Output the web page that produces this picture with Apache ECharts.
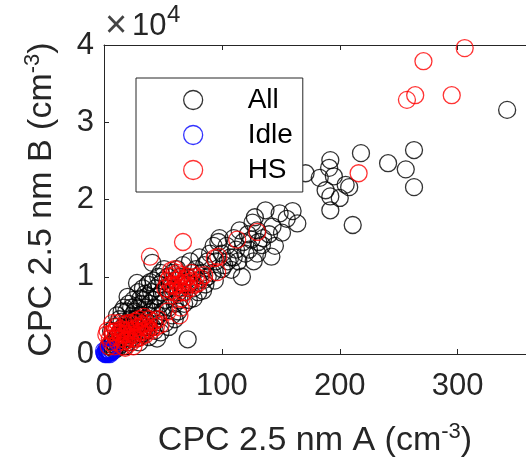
<!DOCTYPE html>
<html>
<head>
<meta charset="utf-8">
<script src="https://cdn.jsdelivr.net/npm/echarts@6/dist/echarts.min.js"></script>
<style>
  html, body { margin: 0; padding: 0; background: #fff; }
  #chart { width: 526px; height: 466px; }
</style>
</head>
<body>
<div id="chart"></div>
<script>
// x: CPC 2.5 nm A (cm^-3), y: CPC 2.5 nm B in units of 1e4 cm^-3
const xTicks = [0, 100, 200, 300]
const yTicks = [0, 1, 2, 3, 4]

const allPoints = [
  [3, 0.05], [4, 0.1], [5, 0.03], [6, 0.12], [7, 0.08], [8, 0.15], [9, 0.05], [10, 0.1], [10, 0.2],
  [11, 0.14], [12, 0.08], [12, 0.25], [13, 0.18], [14, 0.12], [14, 0.3], [15, 0.22], [16, 0.15],
  [16, 0.35], [17, 0.28], [18, 0.1], [18, 0.2], [19, 0.4], [20, 0.3], [20, 0.15], [20, 0.74],
  [21, 0.25], [22, 0.35], [22, 0.45], [23, 0.2], [24, 0.3], [24, 0.5], [25, 0.4], [26, 0.25],
  [26, 0.55], [27, 0.35], [28, 0.45], [28, 0.2], [28, 0.92], [29, 0.6], [30, 0.3], [30, 0.5],
  [31, 0.4], [32, 0.65], [32, 0.25], [33, 0.27], [33, 0.5], [34, 0.35], [34, 0.7], [35, 0.45],
  [36, 0.6], [36, 0.3], [37, 0.75], [38, 0.5], [38, 0.4], [39, 0.65], [39, 0.93], [40, 0.55],
  [40, 0.8], [41, 0.35], [41, 1.18], [42, 0.7], [43, 0.6], [44, 0.85], [44, 0.45], [45, 0.75],
  [45, 0.2], [46, 0.5], [47, 0.9], [48, 0.65], [49, 0.8], [50, 0.55], [50, 0.95], [52, 0.7],
  [53, 0.85], [54, 1.0], [55, 0.6], [56, 0.9], [57, 0.75], [58, 1.05], [59, 0.85], [60, 0.65],
  [61, 0.95], [62, 1.1], [63, 0.8], [64, 0.7], [65, 1.0], [66, 0.9], [67, 1.15], [68, 0.8],
  [70, 1.0], [71, 0.19], [72, 0.9], [73, 1.2], [75, 1.05], [76, 0.85], [78, 1.1], [80, 0.95],
  [81, 1.25], [83, 1.05], [85, 0.96], [85, 1.15], [86, 0.9], [88, 1.2], [90, 1.3], [92, 1.05],
  [93, 1.4], [95, 1.2], [97, 1.45], [98, 1.5], [100, 1.3], [102, 1.15], [104, 1.4], [107, 1.25],
  [108, 1.09], [110, 1.5], [112, 1.35], [115, 1.6], [117, 1.0], [118, 1.45], [120, 1.3],
  [122, 1.55], [125, 1.48], [126, 1.7], [128, 1.77], [130, 1.3], [130, 1.6], [131, 1.45],
  [134, 1.41], [137, 1.86], [140, 1.55], [142, 1.26], [143, 1.65], [149, 1.82], [151, 1.57],
  [155, 1.75], [164, 1.69], [171, 2.34], [183, 2.28], [188, 2.12], [191, 2.41], [192, 2.51],
  [192, 1.86], [192, 2.04], [195, 2.3], [200, 2.02], [205, 2.19], [208, 2.16], [211, 1.67],
  [218, 2.6], [241, 2.47], [256, 2.39], [263, 2.64], [263, 2.16], [342, 3.16],
  // extra density in the lower band
  [6, 0.3], [9, 0.35], [11, 0.5], [13, 0.45], [15, 0.55], [17, 0.6], [19, 0.55], [21, 0.65],
  [23, 0.6], [25, 0.7], [27, 0.62], [29, 0.8], [31, 0.72], [33, 0.85], [35, 0.78], [37, 0.9],
  [42, 0.95], [46, 1.0], [48, 1.05], [51, 1.1], [15, 0.42], [26, 0.45], [30, 0.15], [38, 0.22],
  [43, 0.3], [48, 0.28], [52, 0.4], [55, 0.35], [58, 0.5], [60, 0.45], [63, 0.55], [68, 0.65],
  [72, 0.7], [76, 0.72], [80, 0.8], [84, 0.82], [88, 1.0], [94, 0.95], [100, 1.1], [105, 1.2],
  [110, 1.25], [114, 1.2], [123, 1.35], [127, 1.2], [135, 1.5], [145, 1.4], [160, 1.85]
]

const idlePoints = [
  [0.5, 0.01], [1, 0.02], [1.5, 0.005], [2, 0.03], [2.5, 0.01], [3, 0.04], [3.5, 0.02], [4, 0.05],
  [4.5, 0.015], [5, 0.03], [6, 0.06], [2, 0.06], [1, 0.0], [7, 0.04], [3, 0.0], [5, 0.0],
  [6, 0.02], [0, 0.04]
]

const hsPoints = [
  [306, 3.96], [271, 3.79], [264, 3.35], [257, 3.29], [295, 3.35], [216, 2.34],
  [130, 1.58], [113, 1.48], [97, 1.26], [94, 1.24], [67, 1.45], [39, 1.26], [57, 1.08], [96, 1.06],
  [52, 0.85], [54, 0.95], [55, 0.8], [56, 1.0], [57, 0.9], [58, 0.82], [59, 1.02], [60, 0.88],
  [61, 0.95], [62, 0.78], [62, 1.05], [63, 0.9], [64, 0.98], [65, 0.85], [66, 1.02], [67, 0.92],
  [68, 0.8], [69, 0.97], [70, 0.88], [71, 1.0], [72, 0.93], [73, 0.85], [74, 1.05], [75, 0.95],
  [77, 0.9], [78, 1.0], [80, 0.92], [82, 0.98], [85, 1.02], [60, 1.1], [66, 0.72],
  [54, 0.55], [65, 0.6], [64, 0.5],
  [2, 0.25], [3, 0.3], [5, 0.2], [6, 0.15], [7, 0.28], [8, 0.28], [9, 0.1], [10, 0.22], [11, 0.35],
  [12, 0.15], [13, 0.28], [14, 0.2], [15, 0.32], [16, 0.1], [17, 0.25], [18, 0.38], [19, 0.18],
  [20, 0.3], [21, 0.22], [22, 0.4], [23, 0.15], [24, 0.3], [25, 0.25], [26, 0.42], [27, 0.2],
  [28, 0.35], [29, 0.28], [30, 0.45], [31, 0.22], [32, 0.38], [33, 0.3], [34, 0.48], [35, 0.25],
  [36, 0.4], [37, 0.33], [38, 0.45], [40, 0.3], [42, 0.42], [44, 0.35], [46, 0.45], [48, 0.38],
  [18, 0.08], [12, 0.4], [25, 0.1], [7, 0.4], [4, 0.1],
  [14, 0.26], [16, 0.3], [19, 0.26], [22, 0.32], [24, 0.2], [27, 0.3], [30, 0.35], [32, 0.28],
  [35, 0.36], [38, 0.32], [20, 0.4], [28, 0.42], [10, 0.3], [17, 0.16]
]

const font = 'Liberation Sans, Arial, Helvetica, sans-serif'
const ink = '#262626'

const chart = echarts.init(document.getElementById('chart'))

function ring(color) {
  return { color: 'transparent', borderColor: color, borderWidth: 1.3 }
}

function scatter(name, data, color) {
  return {
    name: name,
    type: 'scatter',
    data: data,
    symbol: 'circle',
    symbolSize: 17,
    clip: false,
    itemStyle: ring(color),
    emphasis: { disabled: true }
  }
}

const axisCommon = {
  type: 'value',
  min: 0,
  max: 358,
  interval: 100,
  axisLine: { show: true, lineStyle: { color: ink, width: 1 } },
  axisTick: { show: true, inside: true, length: 5, lineStyle: { color: ink } },
  splitLine: { show: false }
}

chart.setOption({
  animation: false,
  textStyle: { fontFamily: font },
  // axis exponent label, MATLAB style
  title: [
    {
      text: '×', left: 105, top: 8, padding: 0,
      textStyle: { fontSize: 38, fontWeight: 'normal', color: '#444', fontFamily: font }
    },
    {
      text: '10', left: 132, top: 11, padding: 0,
      textStyle: { fontSize: 31, fontWeight: 'normal', color: ink, fontFamily: font }
    },
    {
      text: '4', left: 167, top: 3, padding: 0,
      textStyle: { fontSize: 24, fontWeight: 'normal', color: ink, fontFamily: font }
    }
  ],
  grid: { left: 104, right: 0, top: 45, bottom: 112, outerBoundsMode: 'none' },
  legend: {
    orient: 'vertical',
    left: 136,
    top: 78,
    padding: [8, 10, 8, 47],
    itemGap: 7,
    itemWidth: 19,
    itemHeight: 19,
    backgroundColor: '#fff',
    borderColor: ink,
    borderWidth: 1,
    borderRadius: 0,
    textStyle: { fontSize: 28, color: '#000', fontFamily: font, padding: [0, 0, 0, 40] },
    data: [
      { name: 'All', icon: 'circle', itemStyle: ring('#000') },
      { name: 'Idle', icon: 'circle', itemStyle: ring('#0000ff') },
      { name: 'HS', icon: 'circle', itemStyle: ring('#ff0000') }
    ],
    selectedMode: false,
    z: 10
  },
  xAxis: [
    Object.assign({}, axisCommon, {
      position: 'bottom',
      name: 'CPC 2.5 nm A (cm{s|-3})',
      nameLocation: 'middle',
      nameGap: 67,
      nameTextStyle: {
        fontSize: 34, color: ink, fontFamily: font,
        rich: { s: { fontSize: 22, padding: [0, 0, 18, 0], color: ink } }
      },
      axisLabel: {
        fontSize: 31, color: ink, margin: 17, showMaxLabel: false,
        formatter: v => (xTicks.indexOf(v) >= 0 ? String(v) : '')
      }
    }),
    Object.assign({}, axisCommon, {
      position: 'top',
      axisLabel: { show: false }
    })
  ],
  yAxis: [{
    type: 'value',
    min: 0,
    max: 4,
    interval: 1,
    position: 'left',
    name: 'CPC 2.5 nm B (cm{s|-3})',
    nameLocation: 'middle',
    nameGap: 42,
    nameTextStyle: {
      fontSize: 34, color: ink, fontFamily: font,
      rich: { s: { fontSize: 22, padding: [0, 0, 18, 0], color: ink } }
    },
    axisLine: { show: true, lineStyle: { color: ink, width: 1 } },
    axisTick: { show: true, inside: true, length: 5, lineStyle: { color: ink } },
    axisLabel: {
      fontSize: 31, color: ink, margin: 10,
      formatter: v => (yTicks.indexOf(v) >= 0 ? String(v) : '')
    },
    splitLine: { show: false }
  }],
  series: [
    scatter('All', allPoints, '#000'),
    scatter('Idle', idlePoints, '#0000ff'),
    scatter('HS', hsPoints, '#ff0000')
  ]
})
</script>
</body>
</html>
